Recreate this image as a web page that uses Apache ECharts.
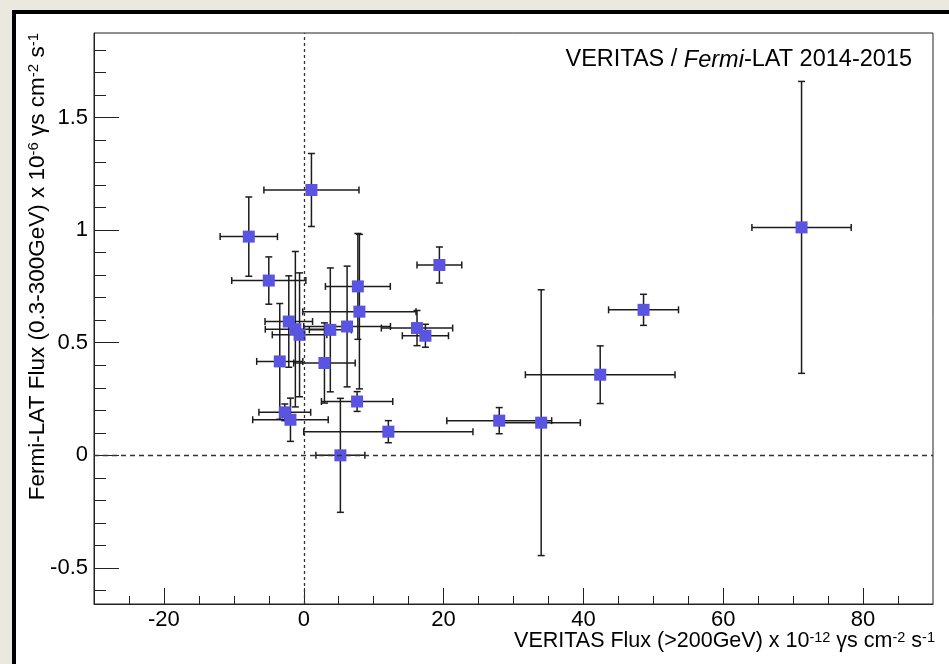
<!DOCTYPE html>
<html>
<head>
<meta charset="utf-8">
<script src="https://cdn.jsdelivr.net/npm/echarts@6/dist/echarts.min.js"></script>
<style>
html,body{margin:0;padding:0;width:949px;height:664px;overflow:hidden;background:#ebe8e0;}
#frame{position:absolute;left:12px;top:10px;right:0;bottom:0;background:#000;}
#inner{position:absolute;left:16px;top:14px;right:0;bottom:0;background:#fff;}
#chart{position:absolute;left:0;top:0;width:949px;height:664px;}
</style>
</head>
<body>
<div id="frame"></div>
<div id="inner"></div>
<div id="chart"></div>
<script>
// VERITAS flux (x) and Fermi-LAT flux (y) with symmetric errors
const xVals = [-7.86, 1.1, -5.0, 19.4, 7.74, 7.96, 16.2, 17.4, 6.2, 3.8, -2.14, -1.2, -0.6, -3.43, 2.96, 7.63, 12.1, 5.24, -2.71, -1.9, 27.96, 33.96, 42.4, 48.6, 71.2];
const yVals = [0.971, 1.178, 0.776, 0.845, 0.75, 0.638, 0.565, 0.531, 0.572, 0.557, 0.594, 0.56, 0.535, 0.417, 0.41, 0.239, 0.105, 0.0, 0.191, 0.158, 0.154, 0.145, 0.358, 0.646, 1.012];
const xErrs = [4.1, 6.8, 5.3, 3.2, 4.64, 8.1, 5.1, 3.3, 6.2, 3.0, 3.4, 4.3, 3.9, 3.3, 4.4, 5.1, 12.1, 3.5, 3.7, 5.4, 7.5, 5.6, 10.7, 5.0, 7.1];
const yErrs = [0.176, 0.162, 0.105, 0.08, 0.235, 0.343, 0.078, 0.051, 0.268, 0.275, 0.203, 0.345, 0.275, 0.257, 0.178, 0.044, 0.049, 0.253, 0.037, 0.096, 0.058, 0.59, 0.128, 0.069, 0.648];

const xMajorTicks = [-20, 0, 20, 40, 60, 80];
const xMinorTicks = [-25, -15, -10, -5, 5, 10, 15, 25, 30, 35, 45, 50, 55, 65, 70, 75, 85];
const yMajorTicks = [-0.5, 0, 0.5, 1, 1.5];
const yMinorTicks = [-0.6, -0.4, -0.3, -0.2, -0.1, 0.1, 0.2, 0.3, 0.4, 0.6, 0.7, 0.8, 0.9, 1.1, 1.2, 1.3, 1.4, 1.6, 1.7, 1.8];

const rows = xVals.map((x, i) => [x, yVals[i], xErrs[i], yErrs[i]]);
const FONT = '"Liberation Sans", Arial, Helvetica, sans-serif';
const X_MIN = -30, X_MAX = 90, Y_MIN = -0.66, Y_MAX = 1.875;

const chart = echarts.init(document.getElementById('chart'), null, {renderer: 'canvas'});

const option = {
  backgroundColor: 'transparent',
  animation: false,
  grid: {left: 94, right: 16, top: 33, bottom: 60, show: true, borderColor: '#222', borderWidth: 1, backgroundColor: 'transparent'},
  xAxis: [
    {type: 'value', position: 'bottom', min: X_MIN, max: X_MAX, splitLine: {show: false},
     axisLine: {show: true, onZero: false, lineStyle: {color: '#222', width: 1}},
     axisTick: {show: true, inside: true, length: 16, customValues: xMajorTicks, lineStyle: {color: '#222', width: 1}},
     axisLabel: {show: true, customValues: xMajorTicks, margin: 5, fontSize: 22, fontFamily: FONT, color: '#000'}},
    {type: 'value', position: 'bottom', min: X_MIN, max: X_MAX, splitLine: {show: false},
     axisLine: {show: false, onZero: false},
     axisTick: {show: true, inside: true, length: 8, customValues: xMinorTicks, lineStyle: {color: '#222', width: 1}},
     axisLabel: {show: false}}
  ],
  yAxis: [
    {type: 'value', position: 'left', min: Y_MIN, max: Y_MAX, splitLine: {show: false},
     axisLine: {show: true, onZero: false, lineStyle: {color: '#222', width: 1}},
     axisTick: {show: true, inside: true, length: 25, customValues: yMajorTicks, lineStyle: {color: '#222', width: 1}},
     axisLabel: {show: true, customValues: yMajorTicks, margin: 6, fontSize: 22, fontFamily: FONT, color: '#000'}},
    {type: 'value', position: 'left', min: Y_MIN, max: Y_MAX, splitLine: {show: false},
     axisLine: {show: false, onZero: false},
     axisTick: {show: true, inside: true, length: 12, customValues: yMinorTicks, lineStyle: {color: '#222', width: 1}},
     axisLabel: {show: false}}
  ],
  graphic: [
    {type: 'text', x: 912, y: 60, silent: true,
     style: {text: 'VERITAS / {i|Fermi}-LAT 2014-2015', font: '23.5px ' + FONT, fill: '#000',
       align: 'right', verticalAlign: 'middle',
       rich: {i: {fontStyle: 'italic', fontSize: 23.5, fontFamily: FONT}}}},
    {type: 'text', x: 935, y: 641, silent: true,
     style: {text: 'VERITAS Flux (>200GeV) x 10{s|-12} γs cm{s|-2} s{s|-1}', font: '21.5px ' + FONT, fill: '#000',
       align: 'right', verticalAlign: 'middle',
       rich: {s: {fontSize: 14.5, fontFamily: FONT, verticalAlign: 'top', lineHeight: 14}}}},
    {type: 'text', x: 38, y: 33, rotation: Math.PI / 2, silent: true,
     style: {text: 'Fermi-LAT Flux (0.3-300GeV) x 10{s|-6} γs cm{s|-2} s{s|-1}', font: '22.5px ' + FONT, fill: '#000',
       align: 'right', verticalAlign: 'middle',
       rich: {s: {fontSize: 15, fontFamily: FONT, verticalAlign: 'top', lineHeight: 14}}}}
  ],
  series: [
    {type: 'custom', xAxisIndex: 0, yAxisIndex: 0, z: 3, silent: true,
     data: rows, encode: {x: 0, y: 1},
     renderItem: function (params, api) {
       const x = api.value(0), y = api.value(1), xe = api.value(2), ye = api.value(3);
       const c = api.coord([x, y]);
       const l = api.coord([x - xe, y]);
       const r = api.coord([x + xe, y]);
       const t = api.coord([x, y + ye]);
       const b = api.coord([x, y - ye]);
       const cap = 3.5;
       const st = {stroke: '#1c1c1c', lineWidth: 1.5, fill: null};
       return {type: 'group', children: [
         {type: 'line', shape: {x1: l[0], y1: c[1], x2: r[0], y2: c[1]}, style: st},
         {type: 'line', shape: {x1: c[0], y1: t[1], x2: c[0], y2: b[1]}, style: st},
         {type: 'line', shape: {x1: l[0], y1: c[1] - cap, x2: l[0], y2: c[1] + cap}, style: st},
         {type: 'line', shape: {x1: r[0], y1: c[1] - cap, x2: r[0], y2: c[1] + cap}, style: st},
         {type: 'line', shape: {x1: c[0] - cap, y1: t[1], x2: c[0] + cap, y2: t[1]}, style: st},
         {type: 'line', shape: {x1: c[0] - cap, y1: b[1], x2: c[0] + cap, y2: b[1]}, style: st}
       ]};
     }},
    {type: 'scatter', xAxisIndex: 0, yAxisIndex: 0, z: 4, silent: true,
     symbol: 'rect', symbolSize: 12,
     itemStyle: {color: '#5a54e2', opacity: 1},
     data: rows.map(r => [r[0], r[1]]),
     markLine: {silent: true, symbol: ['none', 'none'], label: {show: false}, animation: false,
       data: [
         {xAxis: 0, lineStyle: {type: [3, 3], color: '#333', width: 1.3}},
         {yAxis: 0, lineStyle: {type: [5, 4], color: '#333', width: 1.3}}
       ]}}
  ]
};
chart.setOption(option);
</script>
</body>
</html>
